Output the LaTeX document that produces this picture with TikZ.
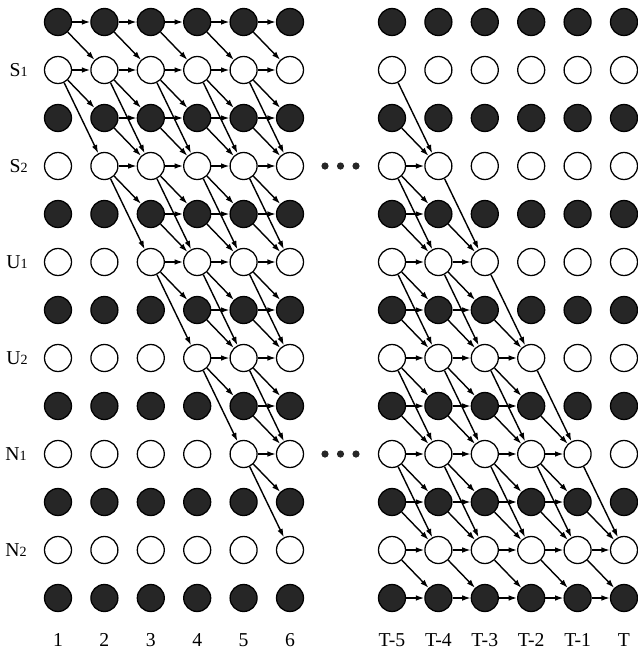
\documentclass[tikz,border=0pt]{standalone}
\usepackage{fontspec}
\setmainfont{Liberation Serif}
\usetikzlibrary{arrows.meta}

\begin{document}
\begin{tikzpicture}[
    x=0.025cm, y=-0.025cm,
    state/.style={
        circle, draw, line width=0.9pt,
        minimum size=0.675cm, inner sep=0pt
    },
    dotc/.style={circle, fill=black!85, inner sep=0pt, minimum size=0.18cm},
    arrow/.style={-{Latex[length=6pt,width=4pt]},line width=1pt},
    lab/.style={font=\fontsize{14}{16}\selectfont, inner sep=0pt}
]
\useasboundingbox (0,0) rectangle (638,652);

% the two lattices of states
\foreach \r in {0,...,12} {
  \pgfmathtruncatemacro\odd{mod(\r,2)}
  \ifnum\odd=0 \def\fc{black!85}\else\def\fc{white}\fi
  \foreach \c in {0,...,5} {
    \node[state,fill=\fc] (l-\r-\c) at ({58+46.4*\c},{22+48*\r}) {};
    \node[state,fill=\fc] (r-\r-\c) at ({392+46.4*\c},{22+48*\r}) {};
  }
}

% row labels
\node[lab,anchor=east] (s1) at (28,70)  {S{\fontsize{10}{12}\selectfont 1}};
\node[lab,anchor=east] (s2) at (28,166) {S{\fontsize{10}{12}\selectfont 2}};
\node[lab,anchor=east] (u1) at (28,262) {U{\fontsize{10}{12}\selectfont 1}};
\node[lab,anchor=east] (u2) at (28,358) {U{\fontsize{10}{12}\selectfont 2}};
\node[lab,anchor=east] (n1) at (27,454) {N{\fontsize{10}{12}\selectfont 1}};
\node[lab,anchor=east] (n2) at (27,550) {N{\fontsize{10}{12}\selectfont 2}};

% column labels
\foreach \c [count=\i from 0] in {1,2,3,4,5,6}
  \node[lab] (c-\i) at ({58+46.4*\i},640) {\c};
\foreach \c [count=\i from 0] in {T-5,T-4,T-3,T-2,T-1,T}
  \node[lab] (t-\i) at ({392+46.4*\i},640) {\c};

% dots between the parts
\foreach \y/\k in {166/a,454/b} {
  \node[dotc] (dot-\k1) at (325,\y) {};
  \node[dotc] (dot-\k2) at (340.5,\y) {};
  \node[dotc] (dot-\k3) at (356,\y) {};
}

% left part: paths from the start
\foreach \c in {0,...,4} {
  \pgfmathtruncatemacro\n{\c+1}
  \pgfmathtruncatemacro\rmax{2*\c+1}
  \foreach \r in {0,...,\rmax} {
    \pgfmathtruncatemacro\a{\r+1}
    \pgfmathtruncatemacro\b{\r+2}
    \draw[arrow] (l-\r-\c) -- (l-\r-\n);
    \draw[arrow] (l-\r-\c) -- (l-\a-\n);
    \ifodd\r \draw[arrow] (l-\r-\c) -- (l-\b-\n); \fi
  }
}

% right part: paths to the end
\foreach \c in {0,...,4} {
  \pgfmathtruncatemacro\n{\c+1}
  \pgfmathtruncatemacro\t{2*\n+1}
  \pgfmathtruncatemacro\rmin{\t-2}
  \foreach \r in {\rmin,...,12} {
    \pgfmathtruncatemacro\a{\r+1}
    \pgfmathtruncatemacro\b{\r+2}
    \ifnum\r<\t\else \draw[arrow] (r-\r-\c) -- (r-\r-\n); \fi
    \ifnum\a<\t\else \ifnum\a<13 \draw[arrow] (r-\r-\c) -- (r-\a-\n); \fi\fi
    \ifodd\r \ifnum\b<13 \draw[arrow] (r-\r-\c) -- (r-\b-\n); \fi\fi
  }
}
\end{tikzpicture}
\end{document}
